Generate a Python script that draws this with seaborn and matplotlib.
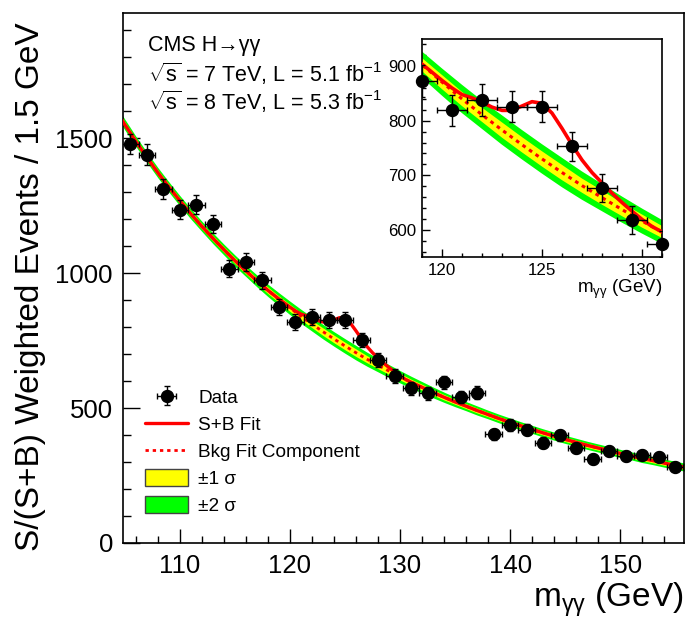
import matplotlib
matplotlib.use("Agg")
import matplotlib.pyplot as plt
from matplotlib.lines import Line2D
from matplotlib.patches import Patch
from matplotlib.ticker import MultipleLocator
import pandas as pd
import seaborn as sns

# binned diphoton data (1.5 GeV bins)
mass = [105.5, 107.0, 108.5, 110.0, 111.5, 113.0, 114.5, 116.0, 117.5, 119.0,
        120.5, 122.0, 123.5, 125.0, 126.5, 128.0, 129.5, 131.0, 132.5, 134.0,
        135.5, 137.0, 138.5, 140.0, 141.5, 143.0, 144.5, 146.0, 147.5, 149.0,
        150.5, 152.0, 153.5, 155.0]
events = [1478, 1439, 1312, 1235, 1254, 1183, 1016, 1041, 974, 873,
          819, 838, 826, 826, 753, 677, 618, 574, 554, 596,
          540, 557, 403, 437, 420, 372, 399, 351, 311, 342,
          322, 327, 320, 283]
events_err = [38, 38, 36, 35, 35, 34, 32, 32, 31, 30,
              29, 29, 29, 29, 27, 26, 25, 24, 24, 24,
              23, 24, 20, 21, 20, 19, 20, 19, 18, 18,
              18, 18, 18, 17]
bin_width = 1.5

# background fit component and its uncertainty bands, 104..156 GeV
fit_mass = list(range(104, 157))
bkg_fit = [1615, 1550, 1488, 1429, 1372, 1319, 1268, 1219, 1173, 1129,
           1087, 1046, 1008, 971, 936, 903, 871, 840, 811, 783,
           756, 730, 705, 681, 659, 637, 616, 596, 577, 558,
           540, 523, 507, 491, 476, 461, 447, 434, 421, 408,
           396, 384, 373, 362, 352, 342, 332, 323, 313, 305,
           296, 288, 280]
band_2sig = [20, 20, 19, 19, 19, 19, 19, 19, 19,
             20, 20, 21, 21, 22, 23, 24,
             25, 26, 26, 27, 27, 27, 27, 26, 25, 24, 23,
             22, 21, 20, 19, 18, 17, 17, 16, 16, 16,
             15, 15, 15, 15, 15, 15, 15, 15, 15, 15, 15, 15, 15, 15, 15, 15]
band_1sig = [10, 10, 10, 10, 10, 10, 10, 10, 10,
             10, 10, 11, 11, 11, 12, 12,
             13, 13, 13, 14, 14, 14, 14, 13, 13, 12, 12,
             11, 11, 10, 10, 9, 9, 9, 8, 8, 8,
             8, 8, 8, 8, 8, 8, 8, 8, 8, 8, 8, 8, 8, 8, 8, 8]

# S+B fit in the signal region (outside it equals the background)
peak_mass = [119.0, 119.5, 120.0, 120.5, 121.0, 121.5, 122.0, 122.5, 123.0,
             123.5, 124.0, 124.5, 125.0, 125.5, 126.0, 126.5, 127.0, 127.5,
             128.0, 128.5, 129.0, 129.5, 130.0, 130.5, 131.0]
sb_peak = [904, 889, 874, 860, 848, 842, 834, 825, 819,
           819, 827, 835, 832, 814, 786, 756, 728, 705,
           686, 667, 650, 634, 619, 606, 596]

YELLOW = "#ffff00"
GREEN = "#00ff00"
DOTS = (0, (1.2, 1.4))

sns.set_style("ticks")
plt.rcParams["font.family"] = ["Liberation Sans", "DejaVu Sans"]
plt.rcParams["mathtext.fontset"] = "custom"
plt.rcParams["mathtext.rm"] = "Liberation Sans"
plt.rcParams["mathtext.it"] = "Liberation Sans:italic"
plt.rcParams["mathtext.bf"] = "Liberation Sans:bold"
plt.rcParams["text.color"] = "black"
plt.rcParams["axes.labelcolor"] = "black"

data = pd.DataFrame({"mass": mass, "events": events, "err": events_err})
fit = pd.DataFrame({"mass": fit_mass, "bkg": bkg_fit, "s1": band_1sig, "s2": band_2sig})
outside = fit[(fit["mass"] < peak_mass[0]) | (fit["mass"] > peak_mass[-1])]
sb = pd.concat([
    pd.DataFrame({"mass": outside["mass"], "sb": outside["bkg"]}),
    pd.DataFrame({"mass": peak_mass, "sb": sb_peak}),
]).sort_values("mass")


def draw_fit(ax, lw):
    ax.fill_between(fit["mass"], fit["bkg"] - fit["s2"], fit["bkg"] + fit["s2"],
                    color=GREEN, lw=0, zorder=1)
    ax.fill_between(fit["mass"], fit["bkg"] - fit["s1"], fit["bkg"] + fit["s1"],
                    color=YELLOW, lw=0, zorder=2)
    sns.lineplot(data=fit, x="mass", y="bkg", ax=ax, color="red",
                 lw=lw * 0.85, linestyle=DOTS, zorder=3)
    sns.lineplot(data=sb, x="mass", y="sb", ax=ax, color="red", lw=lw, zorder=4)


def draw_data(ax, df, ms):
    eb = ax.errorbar(df["mass"], df["events"], xerr=bin_width / 2, yerr=df["err"],
                     fmt="o", color="black", ms=ms, elinewidth=1, capsize=2.5,
                     capthick=1, zorder=5)
    return eb


fig = plt.figure(figsize=(6.87, 6.2), dpi=100)
ax = fig.add_axes([0.1786, 0.1242, 0.817, 0.8553])
draw_fit(ax, 2.4)
data_eb = draw_data(ax, data, 8.6)

ax.set_xlim(104.8, 155.8)
ax.set_ylim(0, 1965)
ax.xaxis.set_major_locator(MultipleLocator(10))
ax.xaxis.set_minor_locator(MultipleLocator(2))
ax.yaxis.set_major_locator(MultipleLocator(500))
ax.yaxis.set_minor_locator(MultipleLocator(100))
ax.tick_params(which="both", direction="in", top=False, right=False,
               color="black", labelcolor="black")
ax.tick_params(axis="x", which="major", length=10, width=1, labelsize=18.5, pad=8)
ax.tick_params(axis="x", which="minor", length=5, width=1)
ax.tick_params(axis="y", which="major", length=12, width=1, labelsize=18.5, pad=7)
ax.tick_params(axis="y", which="minor", length=6, width=1)
for sp in ax.spines.values():
    sp.set_linewidth(1.2)
    sp.set_color("black")

ax.set_xlabel(r"$\mathrm{m_{γγ}}$ (GeV)", fontsize=24, ha="right")
ax.xaxis.set_label_coords(1.0, -0.07)
ax.set_ylabel("S/(S+B) Weighted Events / 1.5 GeV", fontsize=24)
ax.yaxis.set_label_coords(-0.137, 0.483)

ax.text(0.045, 0.928, "CMS H→γγ", transform=ax.transAxes, fontsize=15.5, va="baseline")
ax.text(0.045, 0.869, r"$\sqrt{\mathrm{s}}$ = 7 TeV, L = 5.1 fb$^{\mathrm{-1}}$",
        transform=ax.transAxes, fontsize=15.5, va="baseline")
ax.text(0.045, 0.817, r"$\sqrt{\mathrm{s}}$ = 8 TeV, L = 5.3 fb$^{\mathrm{-1}}$",
        transform=ax.transAxes, fontsize=15.5, va="baseline")

handles = [
    data_eb,
    Line2D([], [], color="red", lw=2.4),
    Line2D([], [], color="red", lw=2.0, linestyle=DOTS),
    Patch(facecolor=YELLOW, edgecolor="#444444", lw=1),
    Patch(facecolor=GREEN, edgecolor="#444444", lw=1),
]
labels = ["Data", "S+B Fit", "Bkg Fit Component", "±1 σ", "±2 σ"]
ax.legend(handles, labels, loc="upper left", bbox_to_anchor=(0.0397, 0.292),
          frameon=False, fontsize=13.7, handlelength=2.27, handleheight=1.0,
          handletextpad=0.53, labelspacing=0.42, borderpad=0, borderaxespad=0)

# inset zoom on the signal region
axi = fig.add_axes([422 / 687, (620 - 257) / 620, 240 / 687, 218 / 620])
axi.set_facecolor("white")
draw_fit(axi, 2.6)
zoom = data[(data["mass"] >= 119) & (data["mass"] <= 131)]
eb_i = draw_data(axi, zoom, 8.6)
eb_i[0].set_clip_on(False)

axi.set_xlim(119, 131)
axi.set_ylim(550, 950)
axi.xaxis.set_major_locator(MultipleLocator(5))
axi.xaxis.set_minor_locator(MultipleLocator(1))
axi.yaxis.set_major_locator(MultipleLocator(100))
axi.yaxis.set_minor_locator(MultipleLocator(20))
axi.tick_params(which="both", direction="in", top=False, right=False,
                color="black", labelcolor="black")
axi.tick_params(which="major", length=6, width=1, labelsize=12.2, pad=4)
axi.tick_params(which="minor", length=3, width=1)
for sp in axi.spines.values():
    sp.set_linewidth(1.2)
    sp.set_color("black")
axi.set_xlabel(r"$\mathrm{m_{γγ}}$ (GeV)", fontsize=13.5, ha="right")
axi.xaxis.set_label_coords(1.0, -0.096)
axi.set_ylabel("")

fig.savefig("out.png", dpi=100)
